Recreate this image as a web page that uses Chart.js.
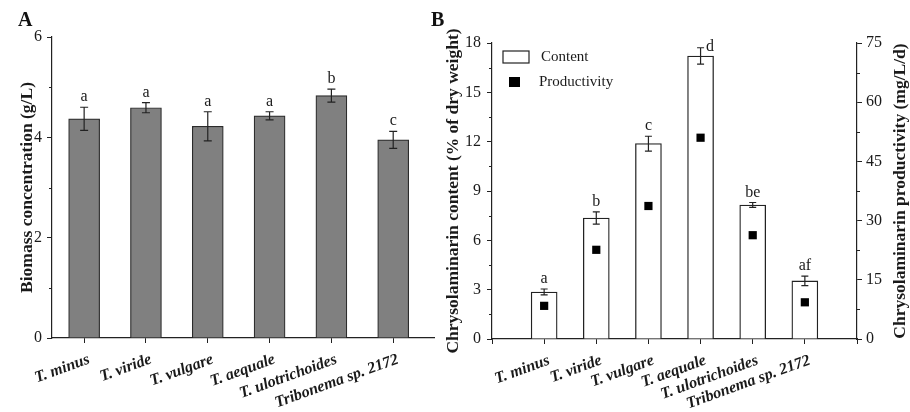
<!DOCTYPE html>
<html>
<head>
<meta charset="utf-8">
<script src="https://cdn.jsdelivr.net/npm/chart.js@4.4.1/dist/chart.umd.min.js"></script>
<style>
  html, body { margin: 0; padding: 0; background: #fff; }
  #wrap { position: relative; width: 910px; height: 412px; overflow: hidden; }
  canvas { position: absolute; top: 0; }
  #chartA { left: 0; }
  #chartB { left: 440px; }
  .tag { position: absolute; top: 8px; font: bold 20px 'Liberation Serif'; color: #111; }
</style>
</head>
<body>
<div id="wrap">
  <canvas id="chartA" width="440" height="412"></canvas>
  <canvas id="chartB" width="470" height="412"></canvas>
  <div class="tag" style="left:18px">A</div>
  <div class="tag" style="left:431px">B</div>
</div>
<script>
const strains = ['T. minus', 'T. viride', 'T. vulgare', 'T. aequale', 'T. ulotrichoides', 'Tribonema sp. 2172'];

// panel A
const biomass = [4.37, 4.59, 4.22, 4.43, 4.83, 3.95];
const biomassErr = [0.23, 0.10, 0.29, 0.08, 0.13, 0.17];
const biomassLetters = ['a', 'a', 'a', 'a', 'b', 'c'];
const biomassTicks = [0, 2, 4, 6];

// panel B
const content = [2.86, 7.36, 11.88, 17.21, 8.15, 3.53];
const contentErr = [0.18, 0.37, 0.45, 0.50, 0.15, 0.29];
const contentLetters = ['a', 'b', 'c', 'd', 'be', 'af'];
const productivity = [8.4, 22.6, 33.7, 51.0, 26.3, 9.3];
const contentTicks = [0, 3, 6, 9, 12, 15, 18];
const productivityTicks = [0, 15, 30, 45, 60, 75];

const SERIF = 'Liberation Serif';
const INK = '#1a1a1a';

// error bars + significance letters on the first dataset
const errorBarPlugin = {
  id: 'errorBars',
  afterDatasetsDraw(chart, args, opts) {
    const ctx = chart.ctx;
    const meta = chart.getDatasetMeta(0);
    const yScale = chart.scales[meta.yAxisID];
    const area = chart.chartArea;
    const data = chart.data.datasets[0].data;
    ctx.save();
    ctx.strokeStyle = '#222';
    ctx.lineWidth = 1.2;
    ctx.fillStyle = INK;
    ctx.font = '16px "' + SERIF + '"';
    meta.data.forEach((bar, i) => {
      const v = data[i].y;
      const e = opts.errors[i];
      const top = yScale.getPixelForValue(v + e);
      const bot = yScale.getPixelForValue(v - e);
      const x = bar.x;
      ctx.beginPath();
      ctx.moveTo(x, top); ctx.lineTo(x, bot);
      ctx.moveTo(x - opts.cap, top); ctx.lineTo(x + opts.cap, top);
      ctx.moveTo(x - opts.cap, bot); ctx.lineTo(x + opts.cap, bot);
      ctx.stroke();
      ctx.textBaseline = 'alphabetic';
      if (top - 18 < area.top) {
        ctx.textAlign = 'left';
        ctx.fillText(opts.letters[i], x + opts.cap + 2, top + 3);
      } else {
        ctx.textAlign = 'center';
        ctx.fillText(opts.letters[i], x, top - 6);
      }
    });
    ctx.restore();
  }
};

// short unlabeled ticks halfway between the labelled ones
const minorTickPlugin = {
  id: 'minorTicks',
  afterDraw(chart, args, opts) {
    const ctx = chart.ctx;
    ctx.save();
    ctx.strokeStyle = '#222';
    ctx.lineWidth = 1;
    opts.axes.forEach(id => {
      const scale = chart.scales[id];
      const vals = scale.ticks.map(t => t.value);
      const right = scale.position === 'right';
      const x0 = right ? scale.left : scale.right;
      for (let i = 0; i < vals.length - 1; i++) {
        const y = Math.round(scale.getPixelForValue((vals[i] + vals[i + 1]) / 2)) + 0.5;
        ctx.beginPath();
        ctx.moveTo(x0, y);
        ctx.lineTo(right ? x0 + 3 : x0 - 3, y);
        ctx.stroke();
      }
    });
    ctx.restore();
  }
};

// legend inside plot B and the right axis title (reads bottom to top)
const panelBExtras = {
  id: 'panelBExtras',
  afterDraw(chart) {
    const ctx = chart.ctx;
    const area = chart.chartArea;
    const ds = chart.data.datasets;
    ctx.save();
    ctx.fillStyle = INK;
    ctx.font = '15px "' + SERIF + '"';
    ctx.textBaseline = 'middle';
    ctx.textAlign = 'left';
    ctx.strokeStyle = '#222';
    ctx.lineWidth = 1.2;
    ctx.strokeRect(area.left + 11, area.top + 8, 26, 12);
    ctx.fillText(ds[0].label, area.left + 49, area.top + 14);
    ctx.fillStyle = '#000';
    ctx.fillRect(area.left + 17, area.top + 34, 11, 10);
    ctx.fillStyle = INK;
    ctx.fillText(ds[1].label, area.left + 47, area.top + 39);

    const y2 = chart.scales.y2;
    ctx.translate(y2.right - 10, (area.top + area.bottom) / 2);
    ctx.rotate(-Math.PI / 2);
    ctx.textAlign = 'center';
    ctx.font = 'bold 17.5px "' + SERIF + '"';
    ctx.fillText('Chrysolaminarin productivity (mg/L/d)', 0, 0);
    ctx.restore();
  }
};

const axisLine = { display: true, color: '#222', width: 1.2 };
const tickMarks = { display: true, drawOnChartArea: false, drawTicks: true, tickLength: 5, color: '#222', offset: false };
const numFont = { family: SERIF, size: 16 };
const catFont = { family: SERIF, size: 16, style: 'italic', weight: 'bold' };
const titleFont = { family: SERIF, size: 17.5, weight: 'bold' };

new Chart(document.getElementById('chartA'), {
  type: 'bar',
  data: {
    datasets: [{
      label: 'Biomass',
      data: strains.map((s, i) => ({ x: i, y: biomass[i] })),
      backgroundColor: '#808080',
      borderColor: '#2b2b2b',
      borderWidth: 1.2,
      barThickness: 31
    }]
  },
  options: {
    responsive: false,
    animation: false,
    layout: { padding: { left: 13, right: 6, top: 37, bottom: 0 } },
    plugins: {
      legend: { display: false },
      tooltip: { enabled: false },
      errorBars: { errors: biomassErr, letters: biomassLetters, cap: 4 },
      minorTicks: { axes: ['y'] }
    },
    scales: {
      x: {
        type: 'linear',
        offset: false,
        min: -0.52,
        max: 5.66,
        afterBuildTicks: s => { s.ticks = strains.map((_, i) => ({ value: i })); },
        afterFit: s => { s.height = 74; },
        grid: tickMarks,
        border: axisLine,
        ticks: {
          autoSkip: false, minRotation: 20, maxRotation: 20, padding: 7, labelOffset: 5,
          color: INK, font: catFont,
          callback: v => strains[v]
        }
      },
      y: {
        min: 0,
        max: 6,
        afterBuildTicks: s => { s.ticks = biomassTicks.map(v => ({ value: v })); },
        afterFit: s => { s.width = 39; },
        grid: tickMarks,
        border: axisLine,
        ticks: { padding: 5, color: INK, font: numFont },
        title: {
          display: true, text: 'Biomass concentration (g/L)',
          color: INK, font: titleFont, padding: { top: 4, bottom: 4 }
        }
      }
    }
  },
  plugins: [errorBarPlugin, minorTickPlugin]
});

new Chart(document.getElementById('chartB'), {
  type: 'bar',
  data: {
    datasets: [{
      label: 'Content',
      data: strains.map((s, i) => ({ x: i, y: content[i] })),
      backgroundColor: '#ffffff',
      borderColor: '#222',
      borderWidth: 1.3,
      barThickness: 26,
      yAxisID: 'y',
      order: 2
    }, {
      type: 'scatter',
      label: 'Productivity',
      data: strains.map((s, i) => ({ x: i, y: productivity[i] })),
      yAxisID: 'y2',
      order: 1,
      pointStyle: 'rect',
      pointRadius: 5.8,
      pointBackgroundColor: '#000',
      pointBorderColor: '#000',
      pointBorderWidth: 0
    }]
  },
  options: {
    responsive: false,
    animation: false,
    layout: { padding: { left: 3, right: 0, top: 43, bottom: 0 } },
    plugins: {
      legend: { display: false },
      tooltip: { enabled: false },
      errorBars: { errors: contentErr, letters: contentLetters, cap: 3.5 },
      minorTicks: { axes: ['y', 'y2'] }
    },
    scales: {
      x: {
        type: 'linear',
        offset: false,
        min: -1,
        max: strains.length,
        afterBuildTicks: s => {
          const t = [-1].concat(strains.map((_, i) => i), [strains.length]);
          s.ticks = t.map(v => ({ value: v }));
        },
        afterFit: s => { s.height = 73; },
        grid: tickMarks,
        border: axisLine,
        ticks: {
          autoSkip: false, minRotation: 20, maxRotation: 20, padding: 7, labelOffset: 5,
          color: INK, font: catFont,
          callback: v => strains[v] || ''
        }
      },
      y: {
        position: 'left',
        min: 0,
        max: 18,
        afterBuildTicks: s => { s.ticks = contentTicks.map(v => ({ value: v })); },
        afterFit: s => { s.width = 49; },
        grid: tickMarks,
        border: axisLine,
        ticks: { padding: 6, color: INK, font: numFont },
        title: {
          display: true, text: 'Chrysolaminarin content (% of dry weight)',
          color: INK, font: titleFont, padding: { top: 0, bottom: 0 }
        }
      },
      y2: {
        position: 'right',
        min: 0,
        max: 75,
        afterBuildTicks: s => { s.ticks = productivityTicks.map(v => ({ value: v })); },
        afterFit: s => { s.width = 53; },
        grid: tickMarks,
        border: axisLine,
        ticks: { padding: 4, color: INK, font: numFont }
      }
    }
  },
  plugins: [errorBarPlugin, minorTickPlugin, panelBExtras]
});
</script>
</body>
</html>
